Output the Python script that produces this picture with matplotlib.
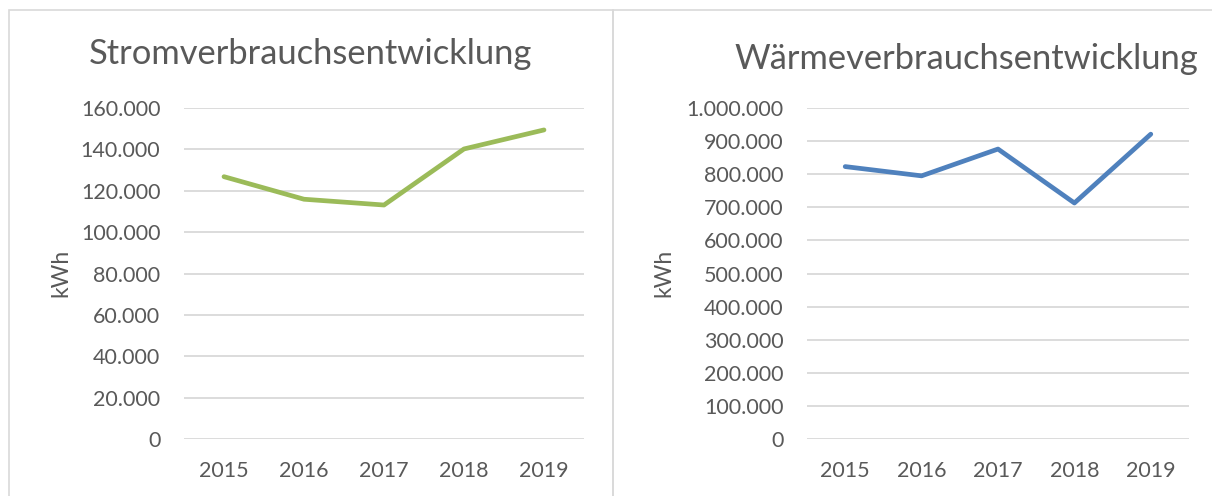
import matplotlib
matplotlib.use("Agg")
import matplotlib.pyplot as plt
from matplotlib.ticker import FuncFormatter
from matplotlib.patches import Rectangle

years = ["2015", "2016", "2017", "2018", "2019"]
strom_kwh = [126800, 115900, 113100, 140200, 149400]
waerme_kwh = [823000, 795000, 876000, 713000, 921000]
strom_ticks = [0, 20000, 40000, 60000, 80000, 100000, 120000, 140000, 160000]
waerme_ticks = [0, 100000, 200000, 300000, 400000, 500000, 600000, 700000, 800000, 900000, 1000000]

plt.rcParams['font.family'] = ['Lato', 'DejaVu Sans']
TXT = '#595959'
GRID = '#d9d9d9'

W, H = 1212, 496
fig = plt.figure(figsize=(W / 100, H / 100), dpi=100)

def de_fmt(v, pos=None):
    return f"{int(round(v)):,}".replace(",", ".")

# panel borders
for (x0, x1) in [(9, 613), (613, 1240)]:
    fig.patches.append(Rectangle((x0 / W, -0.1), (x1 - x0) / W, (H - 10) / H + 0.1,
                                 transform=fig.transFigure, fill=False,
                                 edgecolor='#d9d9d9', linewidth=1.2))

def make_ax(rect, vals, ticks, color, title, title_xy, ylabel_x):
    ax = fig.add_axes(rect)
    x = range(len(years))
    ax.plot(x, vals, color=color, linewidth=3.4, solid_capstyle='round', solid_joinstyle='round', zorder=3)
    ax.set_xlim(-0.5, len(years) - 0.5)
    ax.set_ylim(ticks[0], ticks[-1])
    ax.set_yticks(ticks)
    ax.yaxis.set_major_formatter(FuncFormatter(de_fmt))
    ax.set_xticks(list(x))
    ax.set_xticklabels(years)
    for s in ax.spines.values():
        s.set_visible(False)
    ax.grid(axis='y', color=GRID, linewidth=1.3)
    ax.set_axisbelow(True)
    ax.tick_params(axis='both', length=0, colors=TXT, labelsize=15.5)
    ax.tick_params(axis='y', pad=17)
    ax.tick_params(axis='x', pad=16)
    fig.text(title_xy[0] / W, 1 - title_xy[1] / H, title, ha='center', va='center',
             fontsize=24.8, color=TXT)
    fig.text(ylabel_x / W, 1 - 273 / H, 'kWh', rotation=90, ha='center', va='center',
             fontsize=16.5, color=TXT)
    return ax

bottom = (H - 439) / H
height = (439 - 108) / H
make_ax([184 / W, bottom, 400 / W, height], strom_kwh, strom_ticks, '#9BBB59',
        'Stromverbrauchsentwicklung', (310, 54), 61)
make_ax([807 / W, bottom, 382 / W, height], waerme_kwh, waerme_ticks, '#4F81BD',
        'Wärmeverbrauchsentwicklung', (966, 59), 664)

fig.savefig('out.png', dpi=100)
